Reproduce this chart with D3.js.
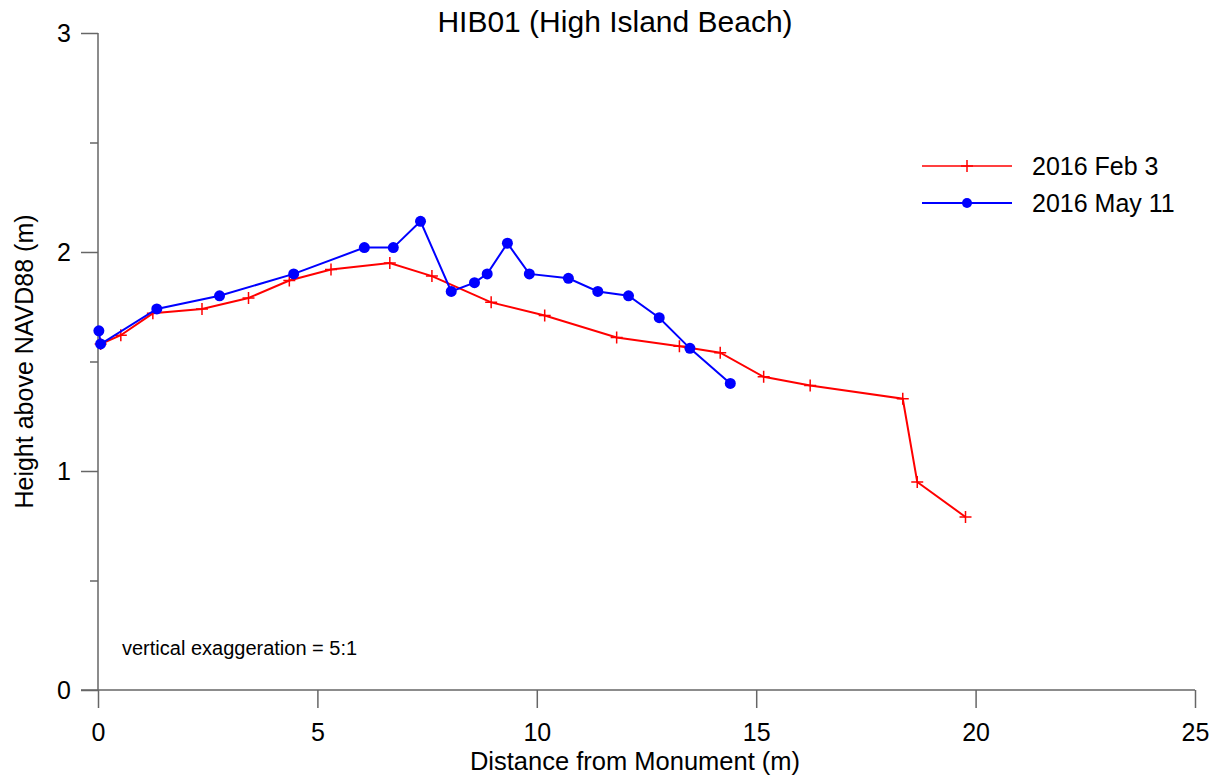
<!DOCTYPE html>
<html>
<head>
<meta charset="utf-8">
<script src="https://cdn.jsdelivr.net/npm/d3@7"></script>
<style>
  body { margin: 0; background: #fff; }
  svg text { font-family: "Liberation Sans", Arial, sans-serif; fill: #000; }
</style>
</head>
<body>
<div id="chart"></div>
<script>
// Feb 3 survey (red, plus markers)
var febDist = [0.06, 0.52, 1.25, 2.37, 3.43, 4.36, 5.31, 6.65, 7.61, 8.96, 10.18, 11.82, 13.25, 14.18, 15.17, 16.23, 18.34, 18.67, 19.77];
var febHeight = [1.58, 1.62, 1.72, 1.74, 1.79, 1.87, 1.92, 1.95, 1.89, 1.77, 1.71, 1.61, 1.57, 1.54, 1.43, 1.39, 1.33, 0.95, 0.79];

// May 11 survey (blue, dot markers)
var mayDist = [0.02, 0.06, 1.34, 2.77, 4.46, 6.07, 6.73, 7.35, 8.05, 8.58, 8.87, 9.33, 9.83, 10.72, 11.39, 12.09, 12.79, 13.49, 14.41];
var mayHeight = [1.64, 1.58, 1.74, 1.80, 1.90, 2.02, 2.02, 2.14, 1.82, 1.86, 1.90, 2.04, 1.90, 1.88, 1.82, 1.80, 1.70, 1.56, 1.40];

var xTicks = [0, 5, 10, 15, 20, 25];
var yTicks = [0, 1, 2, 3];
var yMinorTicks = [0.5, 1.5, 2.5];

var seriesNames = ['2016 Feb 3', '2016 May 11'];

var render = function () {
  var width = 1223;
  var height = 782;
  var margins = { top: 33, right: 28, bottom: 92, left: 98 };

  var svg = d3.select('#chart')
    .append('svg')
    .attr('width', width)
    .attr('height', height);

  var x = d3.scaleLinear().domain([0, 25]).range([margins.left, width - margins.right]);
  var y = d3.scaleLinear().domain([0, 3]).range([height - margins.bottom, margins.top]);

  var axisColor = '#666';

  // y axis
  var yAxis = svg.append('g')
    .attr('transform', 'translate(' + margins.left + ',0)')
    .call(d3.axisLeft(y).tickValues(yTicks).tickSize(17).tickPadding(10).tickFormat(d3.format('d')));
  svg.append('g')
    .attr('transform', 'translate(' + margins.left + ',0)')
    .call(d3.axisLeft(y).tickValues(yMinorTicks).tickSize(8).tickFormat(''))
    .select('.domain').remove();

  // x axis
  var xAxis = svg.append('g')
    .attr('transform', 'translate(0,' + y(0) + ')')
    .call(d3.axisBottom(x).tickValues(xTicks).tickSize(18).tickPadding(15).tickFormat(d3.format('d')));

  svg.selectAll('.domain').attr('stroke', axisColor).attr('stroke-width', 1.5);
  svg.selectAll('.tick line').attr('stroke', axisColor).attr('stroke-width', 1.5);
  svg.selectAll('.tick text').style('font-size', '25px').attr('fill', '#000');
  yAxis.select('.domain').attr('d', 'M0,' + y(3) + 'V' + y(0));
  xAxis.select('.domain').attr('d', 'M' + (margins.left - 17) + ',0H' + x(25));

  // title and axis labels
  svg.append('text')
    .attr('x', 615).attr('y', 32)
    .attr('text-anchor', 'middle')
    .style('font-size', '30px')
    .text('HIB01 (High Island Beach)');

  svg.append('text')
    .attr('x', 635).attr('y', 770)
    .attr('text-anchor', 'middle')
    .style('font-size', '25.5px')
    .text('Distance from Monument (m)');

  svg.append('text')
    .attr('transform', 'translate(33,' + y(1.5) + ') rotate(-90)')
    .attr('text-anchor', 'middle')
    .style('font-size', '25px')
    .text('Height above NAVD88 (m)');

  svg.append('text')
    .attr('x', 122).attr('y', 655)
    .style('font-size', '20px')
    .text('vertical exaggeration = 5:1');

  var line = d3.line()
    .x(function (d) { return x(d[0]); })
    .y(function (d) { return y(d[1]); });

  var feb = febDist.map(function (d, i) { return [d, febHeight[i]]; });
  var may = mayDist.map(function (d, i) { return [d, mayHeight[i]]; });

  var plus = function (g, cx, cy, color) {
    g.append('path')
      .attr('d', 'M' + (cx - 6) + ',' + cy + 'H' + (cx + 6) + 'M' + cx + ',' + (cy - 6) + 'V' + (cy + 6))
      .attr('stroke', color)
      .attr('stroke-width', 1.5);
  };

  // red series
  svg.append('path')
    .datum(feb)
    .attr('d', line)
    .attr('fill', 'none')
    .attr('stroke', '#ff0000')
    .attr('stroke-width', 2);
  var febMarks = svg.append('g');
  feb.forEach(function (d) { plus(febMarks, x(d[0]), y(d[1]), '#ff0000'); });

  // blue series
  svg.append('path')
    .datum(may)
    .attr('d', line)
    .attr('fill', 'none')
    .attr('stroke', '#0000ff')
    .attr('stroke-width', 2);
  svg.selectAll('.may-dot')
    .data(may)
    .enter()
    .append('circle')
    .attr('class', 'may-dot')
    .attr('cx', function (d) { return x(d[0]); })
    .attr('cy', function (d) { return y(d[1]); })
    .attr('r', 5.5)
    .attr('fill', '#0000ff');

  // legend
  var legend = svg.append('g').attr('transform', 'translate(922,166)');
  var colors = ['#ff0000', '#0000ff'];
  seriesNames.forEach(function (name, i) {
    var g = legend.append('g').attr('transform', 'translate(0,' + (i * 37) + ')');
    g.append('line')
      .attr('x1', 0).attr('x2', 90)
      .attr('stroke', colors[i])
      .attr('stroke-width', i == 0 ? 1.5 : 2);
    if (i == 0) {
      plus(g, 45, 0, colors[i]);
    } else {
      g.append('circle').attr('cx', 45).attr('r', 5).attr('fill', colors[i]);
    }
    g.append('text')
      .attr('x', 110).attr('y', 9)
      .style('font-size', '25px')
      .text(name);
  });
};

render();
</script>
</body>
</html>
